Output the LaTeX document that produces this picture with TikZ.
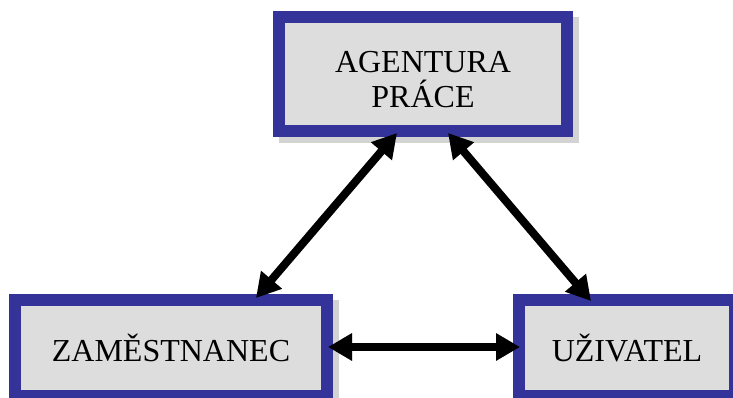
\documentclass[tikz,border=0pt]{standalone}
\usepackage{fontspec}
\setmainfont{Liberation Serif}
\usetikzlibrary{arrows.meta,calc,backgrounds}
\definecolor{boxblue}{HTML}{333399}
\definecolor{boxfill}{HTML}{DDDDDD}
\definecolor{shadowc}{HTML}{D3D3D3}
\tikzset{
  box/.style={draw=boxblue, fill=boxfill, line width=12pt, rectangle, inner sep=0pt,
    font=\fontsize{32}{35}\selectfont, align=center},
  lbl/.style={inner sep=0pt, font=\fontsize{32}{35}\selectfont, align=center},
  conn/.style={line width=8pt, {Triangle[width=26pt,length=24pt]}-{Triangle[width=26pt,length=24pt]}},
  connshadow/.style={conn, draw=shadowc, color=shadowc},
}
\begin{document}
\begin{tikzpicture}[x=1pt,y=1pt]
\useasboundingbox (0,0) rectangle (733,398);
\clip (0,0) rectangle (733,398);
% boxes
\node[box, minimum width=288pt, minimum height=114pt] (a) at (423,324) {};
\node[lbl] (at) at (423,318) {AGENTURA\\PRÁCE};
\node[box, minimum width=312pt, minimum height=96pt] (b) at (171,50) {ZAMĚSTNANEC};
\node[box, minimum width=216pt, minimum height=96pt] (c) at (627,50) {UŽIVATEL};
% shadows
\begin{scope}[on background layer]
  \foreach \n in {a,b,c}{
    \fill[shadowc] ($(\n.north west)+(6,-6)$) rectangle ($(\n.south east)+(6,-6)$);
  }
  \begin{scope}[shift={(5,-6)}]
    \draw[connshadow] ($(a.south)+(-26,4)$) -- ($(b.north)+(85,-4)$);
    \draw[connshadow] ($(a.south)+(25,4)$) -- ($(c.north)+(-36,-7)$);
    \draw[connshadow] ($(b.east)+(-5,1)$) -- ($(c.west)+(7,1)$);
  \end{scope}
\end{scope}
% connectors
\draw[conn] ($(a.south)+(-26,4)$) -- ($(b.north)+(85,-4)$);
\draw[conn] ($(a.south)+(25,4)$) -- ($(c.north)+(-36,-7)$);
\draw[conn] ($(b.east)+(-5,1)$) -- ($(c.west)+(7,1)$);
\end{tikzpicture}
\end{document}
